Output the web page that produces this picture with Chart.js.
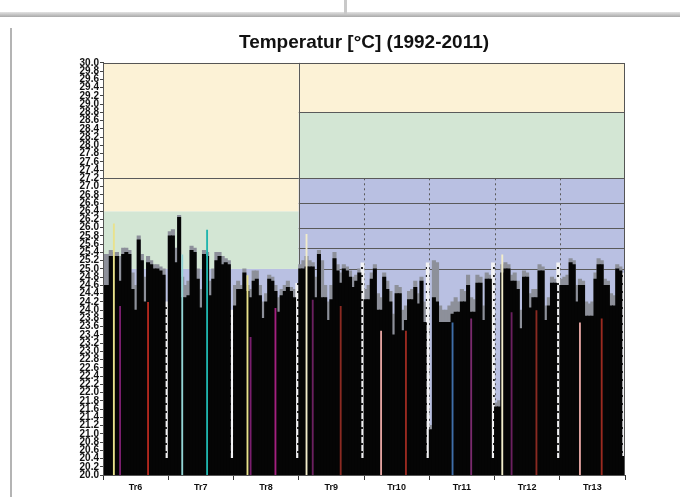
<!DOCTYPE html>
<html>
<head>
<meta charset="utf-8">
<script src="https://cdn.jsdelivr.net/npm/chart.js@4/dist/chart.umd.min.js"></script>
<style>
  html, body { margin: 0; padding: 0; background: #fff; }
  #wrap { position: relative; width: 680px; height: 497px; overflow: hidden; }
  #topbar { position: absolute; left: 0; top: 12px; width: 680px; height: 5px; background: linear-gradient(#e2e2e2, #a9a9a9); }
  #notch { position: absolute; left: 344px; top: 0; width: 3px; height: 14px; background: #c9c9c9; }
  #leftline { position: absolute; left: 10px; top: 28px; width: 2px; height: 469px; background: #b4b4b4; }
  canvas { position: absolute; left: 0; top: 0; }
</style>
</head>
<body>
<div id="wrap">
  <div id="topbar"></div>
  <div id="notch"></div>
  <div id="leftline"></div>
  <canvas id="temp" width="680" height="497"></canvas>
</div>
<script>
// transects, 20 bars each, then one gap slot
const groups = ["Tr6", "Tr7", "Tr8", "Tr9", "Tr10", "Tr11", "Tr12", "Tr13"];

const blackTops = [
  [24.6, 24.6, 25.3, 25.3, 25.3, 24.7, 25.35, 25.4, 25.35, 24.5, 24.0, 25.7, 25.2, 24.2, 25.15, 25.1, 25.0, 25.0, 24.95, 24.85],
  [25.8, 25.8, 25.15, 26.25, 24.3, 24.3, 24.35, 25.45, 25.4, 24.75, 24.05, 25.35, 25.3, 24.35, 24.75, 25.2, 25.3, 25.1, 25.15, 25.1],
  [24.1, 24.5, 24.5, 24.9, 24.45, 24.3, 24.7, 24.75, 24.35, 23.8, 24.2, 24.75, 24.7, 24.45, 23.95, 24.35, 24.45, 24.55, 24.45, 24.3],
  [25.0, 25.0, 25.05, 25.05, 25.05, 24.3, 25.35, 24.3, 24.3, 23.75, 24.25, 25.25, 24.95, 24.65, 25.0, 24.95, 24.8, 24.55, 24.7, 24.9],
  [24.25, 24.25, 24.75, 25.0, 24.0, 24.0, 24.8, 24.5, 24.2, 23.4, 24.4, 24.4, 23.5, 23.75, 24.25, 24.25, 24.55, 24.15, 24.7, 23.7],
  [21.1, 24.3, 24.2, 23.7, 23.7, 23.7, 23.7, 23.9, 23.95, 23.95, 24.2, 24.2, 24.6, 23.95, 23.95, 24.65, 24.65, 23.75, 24.75, 24.75],
  [21.65, 21.65, 24.9, 25.0, 25.0, 24.7, 24.7, 24.5, 23.55, 24.8, 24.8, 24.05, 24.3, 24.3, 24.95, 24.95, 23.75, 24.1, 24.65, 24.65],
  [24.6, 24.6, 24.6, 25.15, 25.1, 24.2, 24.6, 24.6, 23.85, 23.85, 23.85, 24.75, 25.1, 25.1, 24.6, 24.6, 24.1, 24.1, 25.0, 24.95]
];

const grayTops = [
  [25.35, 25.35, 25.45, 25.4, 25.4, 25.3, 25.5, 25.5, 25.45, 24.9, 24.6, 25.8, 25.35, 24.8, 25.3, 25.2, 25.1, 25.1, 25.05, 25.0],
  [25.9, 25.95, 25.5, 26.3, 24.8, 24.6, 24.7, 25.55, 25.5, 25.0, 24.5, 25.45, 25.4, 24.7, 25.0, 25.4, 25.4, 25.3, 25.25, 25.2],
  [24.6, 24.7, 24.6, 25.0, 24.6, 24.5, 24.95, 24.95, 24.6, 24.2, 24.4, 24.85, 24.8, 24.6, 24.3, 24.5, 24.6, 24.7, 24.55, 24.5],
  [25.1, 25.2, 25.3, 25.2, 25.15, 24.8, 25.45, 25.2, 24.6, 24.2, 24.6, 25.4, 25.1, 24.9, 25.1, 25.05, 24.95, 24.8, 24.85, 25.0],
  [24.5, 24.6, 24.9, 25.1, 24.4, 24.3, 24.9, 24.7, 24.45, 23.9, 24.6, 24.55, 24.0, 24.1, 24.45, 24.5, 24.7, 24.4, 24.8, 24.2],
  [21.2, 25.2, 25.15, 24.1, 24.0, 24.0, 24.1, 24.2, 24.3, 24.2, 24.5, 24.45, 24.85, 24.3, 24.25, 24.85, 24.8, 24.1, 24.9, 24.85],
  [21.75, 21.8, 25.1, 25.15, 25.1, 24.85, 24.9, 24.7, 24.0, 24.95, 24.9, 24.4, 24.5, 24.5, 25.1, 25.05, 24.1, 24.3, 24.8, 24.75],
  [24.75, 24.8, 24.85, 25.25, 25.2, 24.6, 24.75, 24.7, 24.2, 24.15, 24.2, 24.9, 25.25, 25.2, 24.75, 24.7, 24.4, 24.35, 25.1, 25.05]
];

// thin coloured bars: slot in group and value
const hlSlots = [[3, 5, 14], [4, 12], [4, 5, 13], [2, 4, 13], [5, 13], [7, 13], [2, 5, 13], [6, 13]];
const hlValues = [[26.1, 24.1, 24.2], [25.35, 25.95], [24.85, 23.35, 24.05], [25.85, 24.25, 24.1], [23.5, 23.5], [23.7, 23.8], [25.35, 23.95, 24.0], [23.7, 23.8]];

// gap slot: short black bar and white column above it
const gapBase = [20.4, 20.4, 20.4, 20.4, 20.4, 20.4, 20.4, 20.45];
const gapTop = [24.2, 24.0, 24.65, 25.15, 25.15, 25.15, 25.15, 24.9];

// background bands (left: Tr6-Tr8, right: Tr9-Tr13)
const leftBands = [25.0, 26.4];      // blue | green | yellow
const rightBands = [27.2, 28.8];
const leftLines = [27.2];
const rightLines = [25.0, 25.5, 26.0, 26.6, 27.2, 28.8];
const yMin = 20, yMax = 30, yStep = 0.2;

const hlColors = [
  ["#e9e28c", "#7a1f6e", "#b3281e"],
  ["#93d5d5", "#1fb5ae"],
  ["#e9e28c", "#7a1f6e", "#a3207f"],
  ["#f2edcb", "#6b2060", "#8a2a22"],
  ["#e3a3a0", "#9b2a20"],
  ["#3f6ea8", "#7a2a6e"],
  ["#f2edcb", "#6b2060", "#8a2a22"],
  ["#e3a3a0", "#9b2a20"]
];

const SLOTS = 21;
const labels = [], black = [], gray = [], white = [], hl = [], hlCol = [];
groups.forEach((g, gi) => {
  for (let s = 0; s < 20; s++) {
    labels.push(g);
    black.push(blackTops[gi][s]);
    gray.push(grayTops[gi][s]);
    white.push(null);
    const k = hlSlots[gi].indexOf(s);
    hl.push(k >= 0 ? hlValues[gi][k] : null);
    hlCol.push(k >= 0 ? hlColors[gi][k] : "rgba(0,0,0,0)");
  }
  labels.push(g);
  black.push(gapBase[gi]);
  gray.push(null);
  white.push([gapBase[gi], gapTop[gi]]);
  hl.push(null);
  hlCol.push("rgba(0,0,0,0)");
});

// dotted white fill for gap columns
const pc = document.createElement("canvas");
pc.width = 4; pc.height = 8;
const pctx = pc.getContext("2d");
pctx.fillStyle = "#f2f2f4"; pctx.fillRect(0, 0, 4, 8);
pctx.fillStyle = "#2a2a2a"; pctx.fillRect(1, 3, 2, 2);
const dots = document.getElementById("temp").getContext("2d").createPattern(pc, "repeat");

const bands = {
  id: "bands",
  beforeDatasetsDraw(chart) {
    const { ctx, chartArea: a, scales: { y } } = chart;
    const slotW = (a.right - a.left) / labels.length;
    const split = a.left + slotW * SLOTS * 3;
    const Y = (v) => y.getPixelForValue(v);
    ctx.save();
    const fill = (x0, x1, v0, v1, c) => {
      ctx.fillStyle = c;
      ctx.fillRect(x0, Y(v1), x1 - x0, Y(v0) - Y(v1));
    };
    fill(a.left, split, yMin, leftBands[0], "#b9c0e2");
    fill(a.left, split, leftBands[0], leftBands[1], "#d3e6d4");
    fill(a.left, split, leftBands[1], yMax, "#fcf2d6");
    fill(split, a.right, yMin, rightBands[0], "#b9c0e2");
    fill(split, a.right, rightBands[0], rightBands[1], "#d3e6d4");
    fill(split, a.right, rightBands[1], yMax, "#fcf2d6");
    ctx.strokeStyle = "#5a5a5a";
    ctx.lineWidth = 1;
    const hline = (x0, x1, v) => {
      const py = Math.round(Y(v)) + 0.5;
      ctx.beginPath(); ctx.moveTo(x0, py); ctx.lineTo(x1, py); ctx.stroke();
    };
    leftLines.forEach((v) => hline(a.left, split, v));
    rightLines.forEach((v) => hline(split, a.right, v));
    // dotted group separators in right part
    ctx.setLineDash([2, 3]);
    for (let gi = 4; gi < groups.length; gi++) {
      const px = Math.round(a.left + slotW * SLOTS * gi) + 0.5;
      ctx.beginPath(); ctx.moveTo(px, Y(rightBands[0])); ctx.lineTo(px, a.bottom); ctx.stroke();
    }
    ctx.setLineDash([]);
    ctx.beginPath();
    ctx.moveTo(Math.round(split) + 0.5, a.top); ctx.lineTo(Math.round(split) + 0.5, a.bottom);
    ctx.stroke();
    ctx.restore();
  },
  afterDatasetsDraw(chart) {
    const { ctx, chartArea: a } = chart;
    ctx.save();
    ctx.strokeStyle = "#555";
    ctx.lineWidth = 1;
    ctx.strokeRect(Math.round(a.left) + 0.5, Math.round(a.top) + 0.5, Math.round(a.right - a.left) - 1, Math.round(a.bottom - a.top));
    ctx.restore();
  }
};

new Chart(document.getElementById("temp"), {
  type: "bar",
  data: {
    labels: labels,
    datasets: [
      { label: "hl", data: hl, backgroundColor: hlCol, barPercentage: 0.6, categoryPercentage: 1, order: 1 },
      { label: "black", data: black, backgroundColor: "#050505", barPercentage: 0.97, categoryPercentage: 1, inflateAmount: 0.5, order: 2 },
      { label: "gap", data: white, backgroundColor: dots, barPercentage: 1, categoryPercentage: 1, order: 3 },
      { label: "gray", data: gray, backgroundColor: "#8d909a", barPercentage: 1, categoryPercentage: 1, inflateAmount: 0.5, order: 4 }
    ]
  },
  options: {
    responsive: false,
    animation: false,
    devicePixelRatio: 1,
    datasets: { bar: { grouped: false, borderWidth: 0 } },
    layout: { padding: { left: 63, right: 55, top: 25, bottom: 4 } },
    plugins: {
      legend: { display: false },
      tooltip: { enabled: false },
      title: {
        display: true,
        fullSize: false,
        text: "Temperatur [°C] (1992-2011)",
        color: "#111",
        font: { family: "Liberation Sans", size: 19, weight: "bold", lineHeight: 1.1 },
        padding: { top: 7, bottom: 10 }
      }
    },
    scales: {
      x: {
        type: "category",
        afterFit: (s) => { s.height = 18; },
        grid: {
          offset: true,
          drawOnChartArea: false,
          tickLength: 5,
          color: (c) => (c.index === undefined || c.index % SLOTS === 0) ? "#333" : "rgba(0,0,0,0)"
        },
        border: { color: "#333" },
        ticks: {
          autoSkip: false,
          maxRotation: 0,
          padding: 2,
          color: "#111",
          font: { family: "Liberation Sans", size: 9, weight: "bold" },
          callback: (v, i) => (i % SLOTS === 10 ? labels[i] : "")
        }
      },
      y: {
        min: yMin,
        max: yMax,
        afterFit: (s) => { s.width = 40; },
        grid: { drawOnChartArea: false, tickLength: 3, color: "#444" },
        border: { color: "#333" },
        ticks: {
          stepSize: yStep,
          autoSkip: false,
          padding: 1,
          color: "#111",
          font: { family: "Liberation Sans", size: 10, weight: "bold" },
          callback: (v) => Number(v).toFixed(1)
        }
      }
    }
  },
  plugins: [bands]
});
</script>
</body>
</html>
